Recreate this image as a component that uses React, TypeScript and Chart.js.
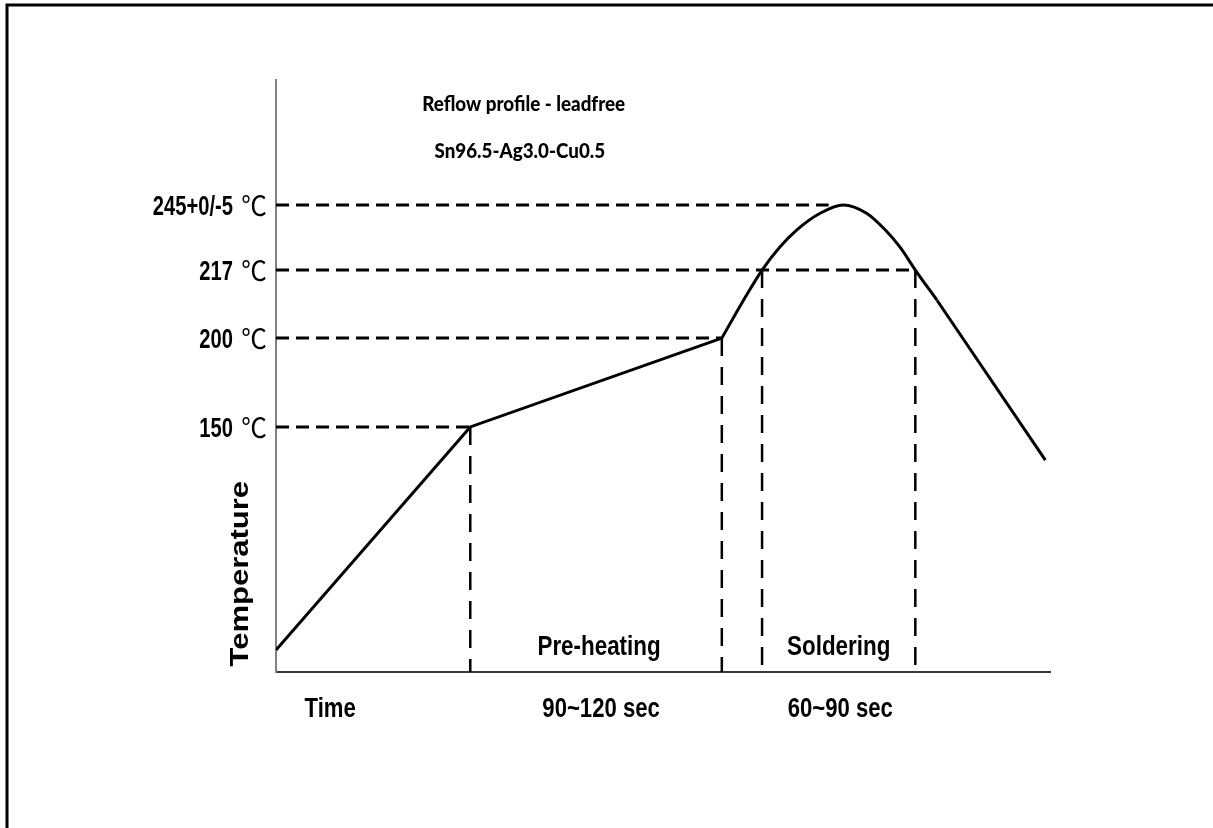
import React, { useEffect, useRef } from 'react';
import { Chart, registerables } from 'chart.js';

Chart.register(...registerables);

// Schematic diagram units: x = position along the time axis (0–100), y = temperature height (0–100)
const rampTime = [0, 25.1, 57.6];
const rampTemp = [3.7, 41.4, 56.4];
const peakTime = [57.6, 60.4, 62.8, 65.1, 67.3, 70.3, 73.3, 76.3, 78.7, 80.6, 82.6, 85.4];
const peakTemp = [56.4, 62.8, 67.9, 71.8, 74.7, 77.5, 78.9, 77.5, 74.7, 71.8, 67.9, 62.8];
const coolTime = [85.4, 99.4];
const coolTemp = [62.8, 35.8];

// Temperature levels (ascending) and where their dashed guides meet the curve
const levelTemps = [41.4, 56.4, 67.9, 78.9];
const levelValues = ['150', '200', '217', '245+0/-5'];
const levelUnit = '℃';
const levelEnds = [25.1, 57.6, 82.6, 71.4];

// Vertical dashed markers (time, temperature where they start)
const markerTimes = [25.1, 57.6, 62.8, 82.6];
const markerTemps = [41.4, 56.4, 67.9, 67.9];

const timeTickValues = [7.0, 42.0, 72.9];
const timeTickLabels = ['Time', '90~120 sec', '60~90 sec'];
const zoneLabels = ['Pre-heating', 'Soldering'];
const titleLines = ['Reflow profile - leadfree', 'Sn96.5-Ag3.0-Cu0.5'];
const yAxisTitle = 'Temperature';

const SANS = "'Liberation Sans', Arial, sans-serif";
const CJK = "'Noto Sans CJK SC', sans-serif";
const TITLE = "Lato, 'Liberation Sans', sans-serif";

const pts = (xs: number[], ys: number[]) => xs.map((x, i) => ({ x, y: ys[i] }));

function squished(ctx: any, text: string, x: number, y: number, align: string, sx: number) {
  ctx.save();
  ctx.translate(x, y);
  ctx.scale(sx, 1);
  ctx.textAlign = align;
  ctx.fillText(text, 0, 0);
  ctx.restore();
}

const annotate = {
  id: 'annotate',
  afterDraw(chart: any) {
    const { ctx, chartArea } = chart;
    const x = chart.scales.x;
    const y = chart.scales.y;
    ctx.save();
    // frame
    ctx.strokeStyle = '#000';
    ctx.lineWidth = 3;
    ctx.beginPath();
    ctx.moveTo(7, 828);
    ctx.lineTo(7, 5);
    ctx.lineTo(1213, 5);
    ctx.stroke();

    ctx.fillStyle = '#000';
    ctx.textBaseline = 'alphabetic';

    // y-axis tick labels (from the y scale's ticks)
    y.ticks.forEach((t: any, i: number) => {
      const py = y.getPixelForValue(t.value);
      ctx.font = `bold 28px ${SANS}`;
      squished(ctx, levelValues[i], y.right - 43, py + 10, 'right', 0.72);
      ctx.font = `27px ${CJK}`;
      squished(ctx, levelUnit, y.right - 9, py + 11, 'right', 0.95);
    });

    // x-axis tick labels (from the x scale's ticks)
    ctx.font = `bold 28px ${SANS}`;
    x.ticks.forEach((t: any, i: number) => {
      squished(ctx, timeTickLabels[i], x.getPixelForValue(t.value), x.top + 45, 'center', 0.79);
    });

    // zone labels
    squished(ctx, zoneLabels[0], x.getPixelForValue((markerTimes[0] + markerTimes[1]) / 2) + 3, chartArea.bottom - 17, 'center', 0.8);
    squished(ctx, zoneLabels[1], x.getPixelForValue((markerTimes[2] + markerTimes[3]) / 2), chartArea.bottom - 17, 'center', 0.8);

    // title lines
    ctx.font = `900 21px ${TITLE}`;
    const w1 = ctx.measureText(titleLines[0]).width;
    const sx = 203 / w1;
    squished(ctx, titleLines[0], x.getPixelForValue(32.0), y.getPixelForValue(95.9) + 7, 'center', sx);
    squished(ctx, titleLines[1], x.getPixelForValue(31.5), y.getPixelForValue(88.0) + 7, 'center', sx);

    // y-axis title
    ctx.textBaseline = 'middle';
    ctx.translate(chartArea.left - 35, y.getPixelForValue(16.6));
    ctx.scale(0.82, 1);
    ctx.rotate(-Math.PI / 2);
    ctx.font = `bold 31px ${SANS}`;
    ctx.textAlign = 'center';
    ctx.fillText(yAxisTitle, 0, 0);
    ctx.restore();
  },
};

export default function App() {
  const ref = useRef<HTMLCanvasElement | null>(null);
  useEffect(() => {
    if (!ref.current) return;
    const curve = { borderColor: '#000', borderWidth: 3, pointRadius: 0, fill: false };
    const chart = new Chart(ref.current, {
      type: 'line',
      data: {
        datasets: [
          { ...curve, data: pts(rampTime, rampTemp), tension: 0 },
          { ...curve, data: pts(peakTime, peakTemp), cubicInterpolationMode: 'monotone' },
          { ...curve, data: pts(coolTime, coolTemp), tension: 0 },
          ...levelTemps.map((t, i) => ({
            data: [{ x: 0, y: t }, { x: levelEnds[i], y: t }],
            borderColor: '#000', borderWidth: 3, borderDash: [13, 7], pointRadius: 0, fill: false,
          })),
          ...markerTimes.map((t, i) => ({
            data: [{ x: t, y: markerTemps[i] }, { x: t, y: 0 }],
            borderColor: '#000', borderWidth: 2.5, borderDash: [18, 11], pointRadius: 0, fill: false,
          })),
        ] as any,
      },
      options: {
        animation: false,
        responsive: false,
        events: [],
        layout: { padding: { left: 136, top: 80, right: 163, bottom: 96 } },
        plugins: { legend: { display: false }, tooltip: { enabled: false } },
        scales: {
          x: {
            type: 'linear', min: 0, max: 100,
            grid: { display: false, drawTicks: false },
            border: { display: true, color: '#3a3a3a', width: 2 },
            afterBuildTicks: (s: any) => { s.ticks = timeTickValues.map((v) => ({ value: v })); },
            afterFit: (s: any) => { s.height = 60; },
            ticks: { display: false, autoSkip: false },
          },
          y: {
            type: 'linear', min: 0, max: 100,
            grid: { display: false, drawTicks: false },
            border: { display: true, color: '#808080', width: 2 },
            afterBuildTicks: (s: any) => { s.ticks = levelTemps.map((v) => ({ value: v })); },
            afterFit: (s: any) => { s.width = 140; },
            ticks: { display: false, autoSkip: false },
          },
        },
      } as any,
      plugins: [annotate],
    });
    return () => chart.destroy();
  }, []);
  return (
    <div style={{ position: 'fixed', left: 0, top: 0, width: 1213, height: 828, background: '#fff' }}>
      <canvas ref={ref} width={1213} height={828} style={{ display: 'block', width: 1213, height: 828 }} />
    </div>
  );
}
